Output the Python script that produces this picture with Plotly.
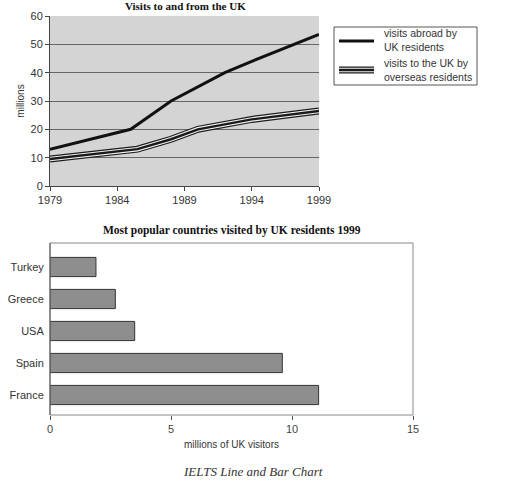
import plotly.graph_objects as go

W, H = 512, 485

# ---- data ----
years_abroad = [1979, 1985, 1988, 1992, 1994, 1999]
visits_abroad = [13, 20, 30, 40, 44, 53.5]
years_to_uk = [1979, 1985.5, 1988, 1990, 1994, 1999]
visits_to_uk = [9.5, 13, 16.5, 20, 23.5, 26.5]

countries = ["France", "Spain", "USA", "Greece", "Turkey"]
country_visitors = [11.1, 9.6, 3.5, 2.7, 1.9]

year_ticks = [1979, 1984, 1989, 1994, 1999]
line_title = "Visits to and from the UK"
bar_title = "Most popular countries visited by UK residents 1999"
caption = "IELTS Line and Bar Chart"

def px(x):
    return x / W

def py(y):
    return 1 - y / H

SANS = "Liberation Sans, Arial, sans-serif"
SERIF = "Liberation Serif, Times New Roman, serif"

fig = go.Figure()

# top: line chart
fig.add_trace(go.Scatter(x=years_to_uk, y=visits_to_uk, mode="lines",
                         line=dict(color="#1a1a1a", width=7), xaxis="x", yaxis="y",
                         showlegend=False, hoverinfo="skip"))
fig.add_trace(go.Scatter(x=years_to_uk, y=visits_to_uk, mode="lines",
                         line=dict(color="#f2f2f2", width=4.6), xaxis="x", yaxis="y",
                         showlegend=False, hoverinfo="skip"))
fig.add_trace(go.Scatter(x=years_to_uk, y=visits_to_uk, mode="lines",
                         line=dict(color="#1a1a1a", width=2.4), xaxis="x", yaxis="y",
                         showlegend=False))
fig.add_trace(go.Scatter(x=years_abroad, y=visits_abroad, mode="lines",
                         line=dict(color="#111111", width=3), xaxis="x", yaxis="y",
                         showlegend=False))

# bottom: bar chart
fig.add_trace(go.Bar(x=country_visitors, y=countries, orientation="h",
                     marker=dict(color="#8e8e8e", line=dict(color="#333333", width=1)),
                     width=0.6, xaxis="x2", yaxis="y2", showlegend=False))

fig.update_layout(
    width=W, height=H,
    margin=dict(l=0, r=0, t=0, b=0, autoexpand=False),
    paper_bgcolor="white",
    plot_bgcolor="white",
    font=dict(family=SANS, size=11, color="#333333"),
    xaxis=dict(domain=[px(50), px(319)], range=[1979, 1999], tickvals=year_ticks,
               showgrid=False, zeroline=False, showline=True, linecolor="#444444",
               linewidth=1, ticks="outside", ticklen=4, tickcolor="#444444",
               tickfont=dict(family=SANS, size=11, color="#333333"), anchor="y",
               automargin=False),
    yaxis=dict(domain=[py(186), py(16)], range=[0, 60], dtick=10,
               showgrid=True, gridcolor="#666666", gridwidth=1, zeroline=False,
               showline=True, linecolor="#444444", linewidth=1,
               ticks="outside", ticklen=4, tickcolor="#444444",
               tickfont=dict(family=SANS, size=11, color="#333333"),
               title=dict(text="millions", font=dict(family=SANS, size=10, color="#333333"), standoff=4),
               anchor="x", automargin=False),
    xaxis2=dict(domain=[px(50), px(413)], range=[0, 15], tickvals=[0, 5, 10, 15],
                showgrid=False, zeroline=False, showline=False,
                ticks="outside", ticklen=4, tickcolor="#555555",
                tickfont=dict(family=SANS, size=11, color="#444444"),
                title=dict(text="millions of UK visitors", font=dict(family=SANS, size=10, color="#333333"), standoff=6),
                anchor="y2", automargin=False),
    yaxis2=dict(domain=[py(415), py(243)], range=[-0.625, 4.75],
                categoryorder="array", categoryarray=countries,
                showgrid=False, zeroline=False, showline=False,
                ticks="outside", ticklen=3, tickcolor="rgba(0,0,0,0)",
                tickfont=dict(family=SANS, size=11, color="#333333"), anchor="x2",
                automargin=False),
)

shapes = []
# gray plot background for top chart
shapes.append(dict(type="rect", xref="paper", yref="paper", x0=px(50), x1=px(319),
                   y0=py(186), y1=py(16), fillcolor="#d4d4d4", line=dict(width=0), layer="below"))
# bottom chart box
shapes.append(dict(type="rect", xref="paper", yref="paper", x0=px(50), x1=px(413),
                   y0=py(415), y1=py(243), line=dict(color="#888888", width=1), layer="above"))
shapes.append(dict(type="line", xref="paper", yref="paper", x0=px(50), x1=px(50),
                   y0=py(415), y1=py(243), line=dict(color="#555555", width=1), layer="above"))
# legend box
shapes.append(dict(type="rect", xref="paper", yref="paper", x0=px(334), x1=px(477),
                   y0=py(85), y1=py(27), line=dict(color="#555555", width=1), fillcolor="white"))
# legend glyphs
shapes.append(dict(type="line", xref="paper", yref="paper", x0=px(339), x1=px(374),
                   y0=py(41), y1=py(41), line=dict(color="#111111", width=3)))
shapes.append(dict(type="line", xref="paper", yref="paper", x0=px(339), x1=px(374),
                   y0=py(70), y1=py(70), line=dict(color="#1a1a1a", width=7)))
shapes.append(dict(type="line", xref="paper", yref="paper", x0=px(339), x1=px(374),
                   y0=py(70), y1=py(70), line=dict(color="#f2f2f2", width=4.6)))
shapes.append(dict(type="line", xref="paper", yref="paper", x0=px(339), x1=px(374),
                   y0=py(70), y1=py(70), line=dict(color="#1a1a1a", width=2.4)))
fig.update_layout(shapes=shapes)

annotations = [
    dict(text="<b>" + line_title + "</b>", x=px(185), y=py(6), xref="paper", yref="paper",
         showarrow=False, font=dict(family=SERIF, size=11, color="#111111"), xanchor="center", yanchor="middle"),
    dict(text="visits abroad by<br>UK residents", x=px(382), y=py(40), xref="paper", yref="paper",
         showarrow=False, align="left", xanchor="left", yanchor="middle",
         font=dict(family=SANS, size=10.5, color="#333333")),
    dict(text="visits to the UK by<br>overseas residents", x=px(382), y=py(70), xref="paper", yref="paper",
         showarrow=False, align="left", xanchor="left", yanchor="middle",
         font=dict(family=SANS, size=10.5, color="#333333")),
    dict(text="<b>" + bar_title + "</b>", x=px(232), y=py(230), xref="paper", yref="paper",
         showarrow=False, font=dict(family=SERIF, size=11.5, color="#111111"), xanchor="center", yanchor="middle"),
    dict(text="<i>" + caption + "</i>", x=px(253), y=py(471), xref="paper", yref="paper",
         showarrow=False, font=dict(family=SERIF, size=13, color="#333333"), xanchor="center", yanchor="middle"),
]
fig.update_layout(annotations=annotations)

fig.write_html("out.html", config={"displayModeBar": False},
               post_script="document.body.style.margin='0';")
